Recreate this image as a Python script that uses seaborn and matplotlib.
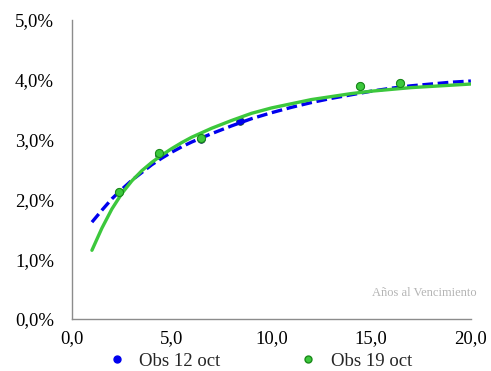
import matplotlib

matplotlib.use("Agg")
import matplotlib.pyplot as plt
import numpy as np
import pandas as pd
import seaborn as sns
from matplotlib.lines import Line2D
from matplotlib.ticker import FuncFormatter, MultipleLocator

# fitted curves (years to maturity, yield %)
CURVE_X = [1.0, 1.5, 2.0, 2.5, 3.0, 3.5, 4.0, 4.5, 5.0, 5.5, 6.0, 7.0, 8.0, 9.0,
           10.0, 11.0, 12.0, 13.0, 14.0, 15.0, 16.0, 17.0, 18.0, 19.0, 20.0]
CURVE_12OCT = [1.62, 1.82, 2.01, 2.17, 2.32, 2.45, 2.58, 2.69, 2.79, 2.88, 2.96, 3.10,
               3.23, 3.35, 3.45, 3.54, 3.62, 3.69, 3.75, 3.81, 3.86, 3.90, 3.93, 3.96, 3.98]
CURVE_19OCT = [1.15, 1.52, 1.84, 2.10, 2.31, 2.48, 2.62, 2.74, 2.85, 2.95, 3.04, 3.19,
               3.32, 3.44, 3.53, 3.60, 3.67, 3.72, 3.77, 3.81, 3.84, 3.87, 3.89, 3.91, 3.93]

# observed bonds
OBS_12OCT_X = [2.37, 4.35, 6.48, 8.40, 14.43, 16.45]
OBS_12OCT_Y = [2.12, 2.75, 3.01, 3.32, 3.89, 3.95]
OBS_19OCT_X = [2.37, 4.35, 6.48, 14.43, 16.45]
OBS_19OCT_Y = [2.13, 2.77, 3.02, 3.90, 3.95]

BLUE = "#0000ee"
GREEN = "#3cc83c"
AXIS_GREY = "#8c8c8c"

sns.set_style("white")
plt.rcParams["font.family"] = ["Liberation Serif", "DejaVu Serif"]

curves = pd.DataFrame({"x": CURVE_X, "y12": CURVE_12OCT, "y19": CURVE_19OCT})
obs12 = pd.DataFrame({"x": OBS_12OCT_X, "y": OBS_12OCT_Y})
obs19 = pd.DataFrame({"x": OBS_19OCT_X, "y": OBS_19OCT_Y})

fig = plt.figure(figsize=(4.91, 3.71), dpi=100)
ax = fig.add_axes([0.1466, 0.140, 0.8124, 0.806])

sns.scatterplot(data=obs12, x="x", y="y", ax=ax, color=BLUE, s=30,
                edgecolor="#0a3a3a", linewidth=0.6, zorder=2, legend=False)
sns.lineplot(data=curves, x="x", y="y12", ax=ax, color=BLUE, linewidth=2.4,
             dashes=False, zorder=3, legend=False)
ax.lines[-1].set_dashes((3.2, 1.4))
sns.lineplot(data=curves, x="x", y="y19", ax=ax, color=GREEN, linewidth=2.4,
             zorder=4, legend=False)
sns.scatterplot(data=obs19, x="x", y="y", ax=ax, color=GREEN, s=34,
                edgecolor="#1a8a1a", linewidth=0.8, zorder=5, legend=False)

ax.set_xlim(0, 20)
ax.set_ylim(0, 5)
ax.xaxis.set_major_locator(MultipleLocator(5))
ax.yaxis.set_major_locator(MultipleLocator(1))
ax.xaxis.set_major_formatter(FuncFormatter(lambda v, _: f"{v:.1f}".replace(".", ",")))
ax.yaxis.set_major_formatter(FuncFormatter(lambda v, _: f"{v:.1f}%".replace(".", ",")))
ax.set_xlabel("")
ax.set_ylabel("")

for side in ["top", "right"]:
    ax.spines[side].set_visible(False)
for side in ["left", "bottom"]:
    ax.spines[side].set_color(AXIS_GREY)
    ax.spines[side].set_linewidth(1.0)
ax.tick_params(axis="both", direction="out", length=4, width=1.0, color=AXIS_GREY,
               labelsize=13.5, labelcolor="black")
ax.tick_params(axis="y", pad=9)
ax.tick_params(axis="x", pad=4)

fig.text(0.971, 0.21, "Años al Vencimiento", ha="right", va="center",
         fontsize=9, color="#b4b4b4")

handles = [
    Line2D([], [], linestyle="none", marker="o", markersize=5, color=BLUE),
    Line2D([], [], linestyle="none", marker="o", markersize=5, markerfacecolor=GREEN,
           markeredgecolor="#1a8a1a"),
]
fig.legend(handles, ["Obs 12 oct", "Obs 19 oct"], loc="center", bbox_to_anchor=(0.529, 0.027),
           ncol=2, frameon=False, fontsize=13.5, handlelength=1.0, handletextpad=0.7,
           columnspacing=4.2, borderpad=0.0)

fig.savefig("out.png", dpi=100)
plt.close(fig)
